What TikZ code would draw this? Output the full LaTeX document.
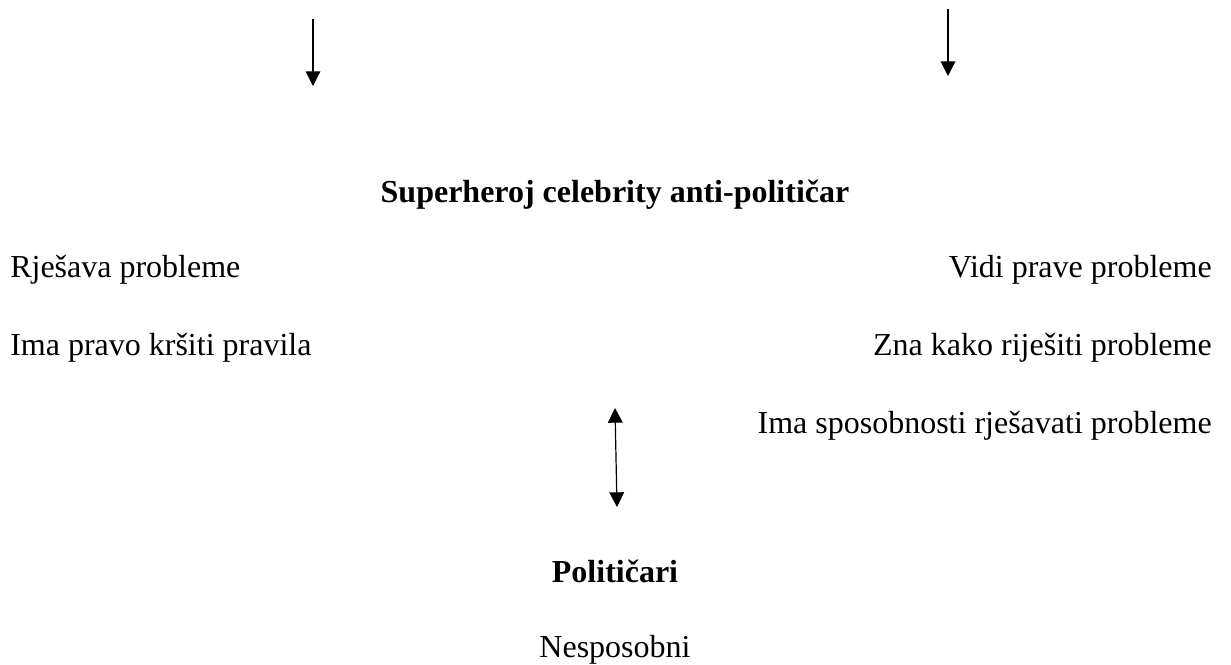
\documentclass[tikz,border=0pt]{standalone}
\usepackage{fontspec}
\setmainfont{Liberation Serif}
\usetikzlibrary{arrows.meta}

\begin{document}
\begin{tikzpicture}[x=0.75pt, y=-0.75pt,
    txt/.style={inner sep=0pt, font=\fontsize{24}{28}\selectfont},
    hdr/.style={txt, font=\fontsize{24}{28}\selectfont\bfseries},
    arr/.style={line width=0.9pt, -{Triangle[length=11pt,width=11pt]}}]
    \useasboundingbox (0,0) rectangle (1231,664);
    % 上の矢印
    \coordinate (la0) at (313,19);
    \coordinate (la1) at (313,86);
    \coordinate (ra0) at (948,9);
    \coordinate (ra1) at (948,76);
    \draw[arr] (la0) -- (la1);
    \draw[arr] (ra0) -- (ra1);
    % 見出しと項目
    \node[hdr, anchor=base] (hero) at (615,202) {Superheroj celebrity anti-političar};
    \node[txt, anchor=base west] (rjes) at (10,277) {Rješava probleme};
    \node[txt, anchor=base west] (krsi) at (10,355) {Ima pravo kršiti pravila};
    \node[txt, anchor=base east] (vidi) at (1212,277) {Vidi prave probleme};
    \node[txt, anchor=base east] (zna) at (1212,355) {Zna kako riješiti probleme};
    \node[txt, anchor=base east] (spos) at (1212,433) {Ima sposobnosti rješavati probleme};
    % 両方向の矢印
    \coordinate (da0) at (615,408);
    \coordinate (da1) at (617,507);
    \draw[arr, {Triangle[length=11pt,width=11pt]}-{Triangle[length=11pt,width=11pt]}] (da0) -- (da1);
    % 下の見出し
    \node[hdr, anchor=base] (pol) at (615,582) {Političari};
    \node[txt, anchor=base] (nesp) at (615,657) {Nesposobni};
  \end{tikzpicture}
\end{document}
